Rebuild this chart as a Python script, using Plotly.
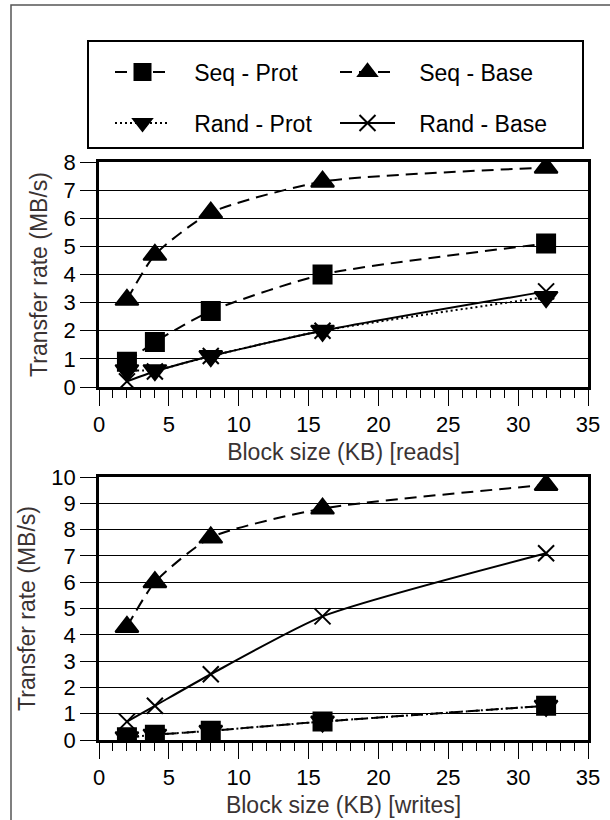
import plotly.graph_objects as go

block_kb = [2, 4, 8, 16, 32]

reads_seq_prot = [0.9, 1.6, 2.7, 4.0, 5.1]
reads_seq_base = [3.1, 4.7, 6.2, 7.3, 7.8]
reads_rand_prot = [0.6, 0.6, 1.1, 2.0, 3.2]
reads_rand_base = [0.2, 0.55, 1.1, 2.0, 3.4]

writes_seq_prot = [0.1, 0.2, 0.35, 0.7, 1.3]
writes_seq_base = [4.3, 6.0, 7.7, 8.8, 9.7]
writes_rand_prot = [0.1, 0.2, 0.35, 0.7, 1.3]
writes_rand_base = [0.7, 1.3, 2.5, 4.7, 7.1]

names = ["Seq - Prot", "Seq - Base", "Rand - Prot", "Rand - Base"]

W, H = 610, 820
def px(x):
    return x / W
def py(y):
    return 1 - y / H

FONT = "Arial, Liberation Sans, sans-serif"
NB = "\u00a0\u00a0\u00a0"

styles = [
    dict(symbol="square", size=18, dash="12px,7px"),
    dict(symbol="triangle-up", size=20, dash="12px,7px"),
    dict(symbol="triangle-down", size=20, dash="2px,3px"),
    dict(symbol="x-thin-open", size=16, dash="solid"),
]
legends = ["legend", "legend", "legend2", "legend2"]

fig = go.Figure()

reads = [reads_seq_prot, reads_seq_base, reads_rand_prot, reads_rand_base]
writes = [writes_seq_prot, writes_seq_base, writes_rand_prot, writes_rand_base]

for i, (nm, st) in enumerate(zip(names, styles)):
    mk = dict(symbol=st["symbol"], size=st["size"], color="black",
              line=dict(color="black", width=2))
    fig.add_trace(go.Scatter(
        x=block_kb, y=reads[i], name=NB + nm, mode="lines+markers",
        line=dict(color="black", width=2, dash=st["dash"], shape="spline", smoothing=0.6),
        marker=mk, xaxis="x", yaxis="y", legend=legends[i], showlegend=True))
for i, (nm, st) in enumerate(zip(names, styles)):
    mk = dict(symbol=st["symbol"], size=st["size"], color="black",
              line=dict(color="black", width=2))
    fig.add_trace(go.Scatter(
        x=block_kb, y=writes[i], name=NB + nm, mode="lines+markers",
        line=dict(color="black", width=2, dash=st["dash"], shape="spline", smoothing=0.6),
        marker=mk, xaxis="x2", yaxis="y2", showlegend=False))

xcommon = dict(range=[0, 35], dtick=5, tick0=0, ticks="outside", ticklen=16,
               tickwidth=1, tickcolor="black", showgrid=False, zeroline=False,
               showline=True, linewidth=2.5, linecolor="black", mirror=True,
               tickfont=dict(family=FONT, size=22, color="black"),
               minor=dict(dtick=1, ticks="outside", ticklen=8, tickcolor="black", tickwidth=1))
ycommon = dict(dtick=1, tick0=0, ticks="outside", ticklen=16, tickwidth=1,
               tickcolor="black", showgrid=True, gridcolor="black", gridwidth=1,
               zeroline=False, showline=True, linewidth=2.5, linecolor="black",
               mirror=True, tickfont=dict(family=FONT, size=22, color="black"))

title_font = dict(family=FONT, size=23, color="#3a3333")

fig.update_layout(
    width=W, height=H,
    margin=dict(l=0, r=0, t=0, b=0, autoexpand=False),
    paper_bgcolor="white", plot_bgcolor="white",
    font=dict(family=FONT, size=22, color="black"),
    xaxis=dict(domain=[px(99), px(588)], anchor="y",
               title=dict(text="Block size (KB) [reads]", font=title_font, standoff=8),
               **xcommon),
    yaxis=dict(domain=[py(387), py(162)], anchor="x", range=[0, 8],
               title=dict(text="Transfer rate (MB/s)", font=title_font, standoff=10),
               **ycommon),
    xaxis2=dict(domain=[px(99), px(588)], anchor="y2",
                title=dict(text="Block size (KB) [writes]", font=title_font, standoff=8),
                **xcommon),
    yaxis2=dict(domain=[py(740), py(477)], anchor="x2", range=[0, 10],
                title=dict(text="Transfer rate (MB/s)", font=title_font, standoff=10),
                **ycommon),
    legend=dict(orientation="h", x=px(110), y=py(72), xanchor="left", yanchor="middle",
                entrywidth=155, itemwidth=55, bgcolor="rgba(0,0,0,0)",
                font=dict(family=FONT, size=23, color="black")),
    legend2=dict(orientation="h", x=px(110), y=py(123), xanchor="left", yanchor="middle",
                 entrywidth=155, itemwidth=55, bgcolor="rgba(0,0,0,0)",
                 font=dict(family=FONT, size=23, color="black")),
    shapes=[
        dict(type="rect", xref="paper", yref="paper", x0=px(11), x1=px(640),
             y0=py(860), y1=py(5), line=dict(color="#555", width=1.5)),
        dict(type="rect", xref="paper", yref="paper", x0=px(88), x1=px(583),
             y0=py(148), y1=py(41), line=dict(color="black", width=2)),
    ],
)

fig.write_html("out.html",
               config={"displayModeBar": False},
               post_script="document.body.style.margin='0';document.body.style.overflow='hidden';")
